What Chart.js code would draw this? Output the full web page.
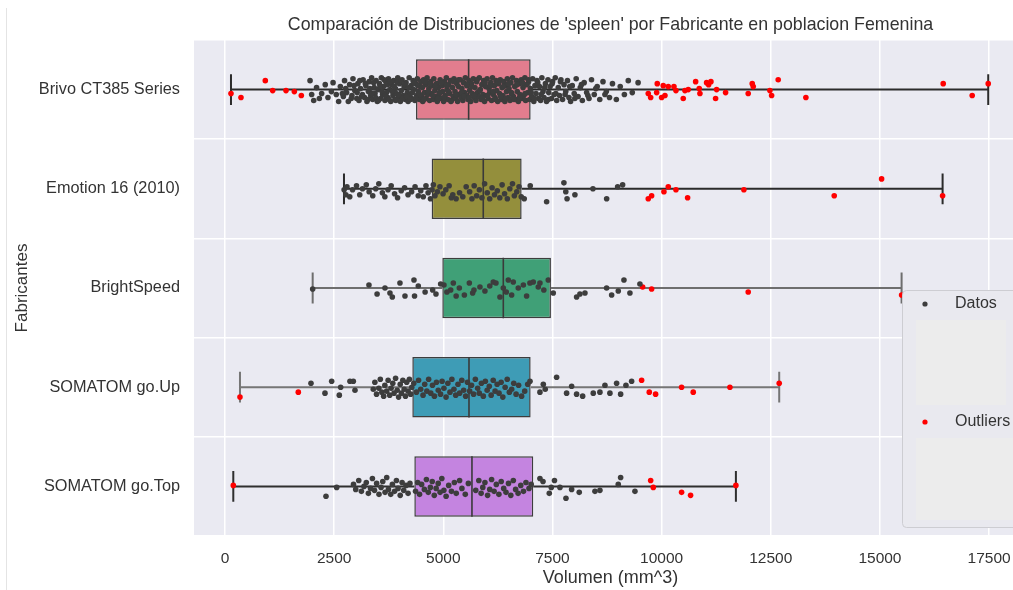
<!DOCTYPE html>
<html>
<head>
<meta charset="utf-8">
<script src="https://cdn.jsdelivr.net/npm/chart.js@4.4.1/dist/chart.umd.min.js"></script>
<style>
  html, body { margin: 0; padding: 0; background: #ffffff; overflow: hidden; }
  #wrap { position: absolute; left: 0; top: 0; width: 1030px; height: 590px; }
</style>
</head>
<body>
<div id="wrap"><canvas id="c" width="1030" height="590"></canvas></div>
<script>
// ---------------- DATA ----------------
const chartTitle = "Comparación de Distribuciones de 'spleen' por Fabricante en poblacion Femenina";
const xAxisTitle = "Volumen (mm^3)";
const yAxisTitle = "Fabricantes";
const categories = ["Brivo CT385 Series", "Emotion 16 (2010)", "BrightSpeed", "SOMATOM go.Up", "SOMATOM go.Top"];
const xTickValues = [0, 2500, 5000, 7500, 10000, 12500, 15000, 17500];

const whiskerLow  = [137, 2725, 2008, 343, 190];
const q1          = [4375, 4733, 4977, 4290, 4336];
const medians     = [5580, 5915, 6374, 5588, 5656];
const q3          = [7000, 6794, 7465, 7000, 7060];
const whiskerHigh = [17480, 16435, 15496, 12693, 11701];

// point values [volume, jitter offset in category units]
const datosBrivo = [[1948,-.09],[1985,.05],[2032,.11],[2097,-.02],[2161,.09],[2214,.04],[2296,-.05],[2358,.08],[2437,.02],[2475,-.07],[2548,.05],[2603,.12],[2642,-.03],[2711,.07],[2738,-.09],[2786,.03],[2824,.12],[2853,-.05],[2907,.06],[2931,-.11],[2972,.01],[3018,.09],[3043,-.06],[3069,.11],[3104,-.01],[3148,.05],[3163,-.1],[3197,.08],[3226,-.04],[3251,.12],[3284,.02],[3302,-.08],[3337,.06],[3358,-.12],[3382,.1],[3417,-.02],[3436,.04],[3461,-.09],[3488,.12],[3503,0],[3538,-.06],[3566,.09],[3581,-.12],[3609,.05],[3627,-.03],[3664,.11],[3683,-.08],[3702,.03],[3729,.08],[3744,-.11],[3778,0],[3796,.12],[3813,-.05],[3846,.06],[3862,-.09],[3891,.1],[3904,-.01],[3922,.04],[3957,-.12],[3971,.08],[3998,-.06],[4016,.12],[4039,.01],[4055,-.1],[4083,.06],[4102,-.03],[4127,.1],[4146,-.07],[4174,.03],[4193,.12],[4218,-.12],[4236,.05],[4263,-.04],[4281,.09],[4307,-.09],[4322,0],[4349,.11],[4366,-.06],[4391,.06],[4404,-.11],[4428,.02],[4455,.1],[4473,-.03],[4486,-.08],[4508,.07],[4529,.12],[4547,-.1],[4571,.03],[4589,-.05],[4606,.09],[4628,-.12],[4644,.05],[4669,-.01],[4687,.11],[4712,-.08],[4726,.04],[4745,-.04],[4768,.1],[4783,-.11],[4806,.01],[4827,.07],[4846,-.06],[4861,.12],[4888,-.02],[4903,.05],[4927,-.1],[4946,.09],[4968,-.04],[4984,.02],[5007,.12],[5028,-.08],[5043,.06],[5069,-.12],[5085,0],[5106,.1],[5124,-.05],[5148,.04],[5163,-.09],[5187,.11],[5208,-.02],[5226,.07],[5244,-.11],[5268,.02],[5283,.09],[5309,-.06],[5327,.12],[5346,-.03],[5364,.05],[5388,-.1],[5405,.08],[5426,-.01],[5447,.11],[5463,-.07],[5486,.03],[5504,-.12],[5527,.06],[5542,-.04],[5566,.1],[5587,-.09],[5603,.01],[5628,.12],[5645,-.06],[5664,.04],[5687,-.11],[5706,.08],[5724,-.02],[5748,.11],[5763,-.08],[5785,.03],[5806,.07],[5824,-.12],[5847,0],[5866,.1],[5883,-.05],[5907,.05],[5925,-.09],[5944,.12],[5968,-.03],[5986,.06],[6003,-.11],[6027,.09],[6046,-.01],[6064,.03],[6087,-.07],[6105,.11],[6126,-.12],[6144,.05],[6168,-.04],[6185,.08],[6207,-.09],[6224,.01],[6246,.12],[6263,-.06],[6288,.04],[6304,-.1],[6327,.1],[6345,-.02],[6366,.06],[6384,-.08],[6409,.12],[6425,-.04],[6448,.02],[6466,-.11],[6487,.08],[6505,-.01],[6528,.11],[6547,-.07],[6566,.04],[6585,-.12],[6607,.07],[6636,-.03],[6654,.1],[6677,-.09],[6694,.02],[6718,.12],[6737,-.06],[6755,.05],[6784,-.1],[6803,.09],[6826,-.02],[6844,.06],[6868,-.12],[6885,.11],[6907,-.05],[6936,.03],[6954,-.08],[6977,.1],[6995,-.01],[7026,.07],[7047,-.11],[7073,.12],[7098,-.04],[7124,.04],[7146,-.09],[7177,.09],[7203,-.03],[7228,.11],[7257,-.12],[7284,.02],[7306,.08],[7338,-.06],[7364,.12],[7397,-.1],[7415,.03],[7446,-.03],[7478,.09],[7503,-.08],[7536,.05],[7564,-.12],[7597,.11],[7633,-.02],[7662,.06],[7694,-.1],[7731,.1],[7765,-.05],[7804,.02],[7843,-.09],[7877,.08],[7915,.12],[7953,-.04],[7998,.04],[8043,-.11],[8086,.07],[8138,-.02],[8184,.11],[8226,-.07],[8283,.03],[8337,.09],[8394,-.1],[8457,.05],[8524,-.03],[8583,.1],[8657,-.08],[8733,.02],[8806,.08],[8874,-.06],[8963,.1],[9052,-.03],[9147,.05],[9236,-.09],[9328,.03],[9461,-.07],
  [2688,.04],[2764,-.01],[2891,.09],[2955,-.04],[3027,.03],[3088,-.09],[3126,.07],[3214,-.06],[3273,.1],[3319,-.01],[3372,.04],[3405,-.07],[3452,.08],[3517,.11],[3549,-.03],[3598,.02],[3645,-.1],[3671,.06],[3717,-.05],[3758,.1],[3786,-.08],[3831,.02],[3877,-.03],[3913,.11],[3944,-.07],[3986,.05],[4027,-.09],[4069,.09],[4114,-.05],[4158,.07],[4207,-.02],[4249,.1],[4296,.03],[4337,-.07],[4382,.09],[4417,-.04],[4463,.05],[4519,-.02],[4558,.1],[4597,-.08],[4654,.02],[4698,-.06],[4757,.06],[4818,-.03],[4874,.09],[4915,.03],[4957,-.07],[5018,.08],[5076,-.04],[5117,.02],[5174,.12],[5236,-.08],[5297,.05],[5352,-.1],[5413,.03],[5474,.07],[5536,-.05],[5594,.08],[5652,-.03],[5713,.06],[5774,-.1],[5836,.01],[5893,.09],[5957,-.07],[6016,.06],[6074,-.04],[6137,.02],[6196,.1],[6257,-.08],[6314,.07],[6376,-.03],[6437,.09],[6496,-.06],[6559,.03],[6618,.1],[6683,-.05],[6746,.08],[6812,-.07],[6873,.04],[6948,-.1],[7012,.03],[7088,.09],[7163,-.07],[7241,.05],[7322,-.02],[7405,.1],[7492,-.06],[7578,.04],[7683,-.08],[7789,.05],[7896,-.03],[8012,.09],[8163,-.05],[8311,.06],[8492,-.01],[8702,.05]];
const outBrivo = [[137,.04],[366,.08],[923,-.09],[1092,.01],[1397,.01],[1588,.02],[1748,.06],[9694,.04],[9749,.08],[9900,-.06],[9886,.03],[10000,.08],[10037,-.04],[10076,.06],[10152,-.03],[10282,-.03],[10328,.01],[10495,.09],[10534,.01],[10610,0],[10779,-.08],[10861,-.01],[10877,.04],[11030,-.07],[11129,-.08],[11076,-.05],[11236,.09],[11259,0],[11465,.03],[11983,.04],[12075,-.06],[12098,-.03],[12480,.01],[12519,.06],[12670,-.1],[13304,.08],[16449,-.06],[17113,.06],[17480,-.06]];

const datosEmotion = [[2728,.01],[2768,.06],[2793,-.02],[2857,.08],[2921,.01],[3012,-.03],[3086,.06],[3149,0],[3236,-.04],[3301,.03],[3384,.07],[3452,0],[3523,-.05],[3604,.04],[3661,.08],[3733,.01],[3806,-.03],[3884,.05],[3952,.09],[4036,.02],[4113,-.01],[4192,.06],[4274,.03],[4353,-.02],[4426,.07],[4483,.02],[4541,.08],[4603,-.03],[4652,.04],[4706,.1],[4742,.01],[4771,-.04],[4809,.07],[4864,.03],[4923,-.02],[4994,.05],[5057,.01],[5133,-.03],[5184,.09],[5217,.06],[5293,.1],[5372,.04],[5446,.08],[5524,-.02],[5603,.03],[5656,.1],[5707,-.03],[5764,.07],[5826,.01],[5884,.09],[5946,-.05],[6006,.04],[6063,.1],[6117,-.01],[6172,.06],[6236,.02],[6294,.09],[6347,-.04],[6403,.05],[6466,.1],[6523,0],[6584,-.05],[6627,.07],[6683,.03],[6734,-.02],[6785,.08],[6853,.1],[6991,-.03],[7366,.13],[7762,-.06],[7805,.03],[7834,.1],[8014,.06],[8427,0],[8741,.1],[8993,-.02],[9107,-.04]];
const outEmotion = [[9694,.1],[9771,.07],[10053,.03],[10152,-.02],[10328,.01],[10595,.09],[11884,.01],[13953,.07],[15038,-.1],[16435,.07]];

const datosBright = [[2008,.01],[3297,-.03],[3483,.06],[3664,0],[3778,.05],[3832,.09],[4007,-.05],[4122,.08],[4328,-.08],[4341,.08],[4427,-.02],[4583,.04],[4756,.02],[4832,.06],[4939,-.04],[5015,-.03],[5083,.04],[5169,.02],[5229,-.05],[5294,.08],[5367,0],[5482,.07],[5596,-.05],[5672,.05],[5702,.02],[5839,-.01],[5953,.03],[6064,-.02],[6144,-.06],[6206,-.05],[6297,.09],[6374,0],[6442,.04],[6488,-.08],[6565,.07],[6602,-.06],[6717,0],[6833,-.03],[6908,.08],[6984,-.05],[7060,-.06],[7175,-.01],[7213,-.05],[7302,.02],[7404,-.08],[7518,.05],[8053,.09],[8129,.06],[8244,.05],[8740,0],[8855,.07],[9007,.03],[9137,-.08],[9274,.05],[9503,-.04]];
const outBright = [[9565,-.01],[9771,.01],[11983,.04],[15496,.07]];

const datosUp = [[1969,-.04],[2290,.06],[2443,-.06],[2618,.08],[2649,0],[2862,-.06],[2939,-.06],[2977,.03],[3396,.02],[3432,-.05],[3471,.07],[3523,.01],[3557,-.08],[3592,.05],[3634,.09],[3661,-.02],[3703,.04],[3736,-.07],[3772,.08],[3804,.01],[3843,-.04],[3871,.06],[3907,-.09],[3944,.03],[3976,.1],[4013,-.03],[4042,.06],[4073,-.07],[4104,.02],[4133,.09],[4162,-.05],[4194,.04],[4223,-.08],[4252,.07],[4277,0],[4323,-.04],[4384,.05],[4433,-.07],[4482,.02],[4536,.08],[4574,-.03],[4623,.04],[4664,-.08],[4713,.06],[4752,-.02],[4796,.09],[4843,-.05],[4884,.03],[4936,.07],[4972,-.06],[5014,.01],[5063,.1],[5104,-.04],[5153,.05],[5196,-.08],[5243,.02],[5284,.08],[5336,-.03],[5374,.06],[5423,-.07],[5466,.03],[5512,.09],[5553,-.05],[5604,.04],[5646,-.02],[5693,.07],[5734,-.08],[5786,.01],[5824,.06],[5873,-.04],[5916,.09],[5963,-.06],[6004,.03],[6053,-.01],[6096,.08],[6143,-.07],[6186,.04],[6233,-.03],[6276,.06],[6324,-.05],[6363,.1],[6416,0],[6464,-.08],[6513,.05],[6566,.02],[6613,-.04],[6667,.07],[6724,-.02],[6793,.09],[6864,.04],[6933,-.03],[6986,-.06],[7213,.05],[7290,-.03],[7334,.02],[7595,-.1],[7824,.06],[7939,-.01],[8053,.07],[8191,.09],[8434,.06],[8587,.05],[8702,-.02],[8816,.06],[8969,-.04],[9061,.07],[9183,-.02],[9313,-.06]];
const outUp = [[343,.1],[1679,.05],[9542,-.07],[9717,.05],[9862,.07],[10457,0],[10724,.05],[11564,0],[12693,-.04]];

const datosTop = [[2313,.1],[2558,.01],[2943,-.02],[2994,.03],[3063,-.06],[3124,.05],[3183,0],[3236,-.04],[3284,.07],[3333,.02],[3376,-.08],[3424,.04],[3473,-.03],[3527,.08],[3574,.01],[3613,-.05],[3666,.06],[3704,-.09],[3743,.03],[3796,.08],[3834,-.02],[3883,.05],[3926,-.06],[3964,.02],[4013,.09],[4056,-.04],[4093,.04],[4146,-.01],[4193,.07],[4236,-.03],[4364,.05],[4413,-.04],[4456,.08],[4503,-.02],[4566,.03],[4613,-.07],[4656,.06],[4703,.01],[4746,-.05],[4793,.09],[4836,.02],[4883,-.03],[4926,.06],[4966,-.08],[5013,.04],[5064,.1],[5123,-.01],[5186,.05],[5253,-.04],[5296,.07],[5373,-.06],[5426,.02],[5503,.08],[5574,-.03],[5743,.04],[5813,-.06],[5866,.07],[5904,.01],[5953,-.04],[6014,.09],[6063,.03],[6106,-.07],[6163,.05],[6214,-.02],[6273,.08],[6326,-.05],[6383,.02],[6436,.06],[6493,-.03],[6546,.09],[6603,-.06],[6656,.03],[6713,.07],[6774,-.01],[6836,.05],[6893,-.04],[6963,.02],[7013,-.02],[7213,-.08],[7283,-.05],[7427,.07],[7473,.01],[7546,-.06],[7671,.01],[7809,.12],[7939,.03],[8113,.06],[8473,.05],[8587,.04],[9007,-.02],[9061,-.09],[9389,.05]];
const outTop = [[190,-.01],[9749,-.06],[9809,.01],[10457,.06],[10663,.09],[11701,-.01]];

const datosRows = [datosBrivo, datosEmotion, datosBright, datosUp, datosTop];
const outlierRows = [outBrivo, outEmotion, outBright, outUp, outTop];

// ---------------- STYLE ----------------
const boxColors = ['#e27d8e', '#948f3c', '#40a077', '#3e9cb6', '#c484e0'];
const whiskerColors = ['#2b2b2b', '#2b2b2b', '#6e6e6e', '#767676', '#2f2f2f'];
const BOX_FRAC = 0.61;
const CAP_HALF = 0.155;
const FONT = '"Liberation Sans", Arial, sans-serif';
const TEXT = '#333333';

Chart.defaults.font.family = FONT;
Chart.defaults.color = TEXT;

function toPoints(rows) {
  const out = [];
  rows.forEach((arr, i) => arr.forEach(([v, j]) => out.push({ x: v, y: i + j })));
  return out;
}
function whiskerData(i) {
  const G = { x: null, y: null };
  return [
    { x: whiskerLow[i], y: i }, { x: q1[i], y: i }, G,
    { x: q3[i], y: i }, { x: whiskerHigh[i], y: i }, G,
    { x: whiskerLow[i], y: i - CAP_HALF }, { x: whiskerLow[i], y: i + CAP_HALF }, G,
    { x: whiskerHigh[i], y: i - CAP_HALF }, { x: whiskerHigh[i], y: i + CAP_HALF }
  ];
}
const medianData = [];
categories.forEach((c, i) => {
  medianData.push({ x: medians[i], y: i - BOX_FRAC / 2 }, { x: medians[i], y: i + BOX_FRAC / 2 }, { x: null, y: null });
});

const datasets = [];
datasets.push({
  type: 'scatter', label: 'Datos', data: toPoints(datosRows), order: 0,
  backgroundColor: '#3d3d3d', borderWidth: 0, pointRadius: 2.8, pointHoverRadius: 2.8
});
datasets.push({
  type: 'scatter', label: 'Outliers', data: toPoints(outlierRows), order: 0,
  backgroundColor: '#ff0000', borderWidth: 0, pointRadius: 2.8, pointHoverRadius: 2.8
});
categories.forEach((c, i) => {
  datasets.push({
    type: 'line', label: 'whisker ' + c, data: whiskerData(i), order: 1,
    borderColor: whiskerColors[i], borderWidth: 2, pointRadius: 0, spanGaps: false, fill: false, tension: 0
  });
});
datasets.push({
  type: 'line', label: 'median', data: medianData, order: 1,
  borderColor: '#3a3a3a', borderWidth: 1.6, pointRadius: 0, spanGaps: false, fill: false, tension: 0
});
datasets.push({
  type: 'bar', label: 'box', order: 2,
  data: categories.map((c, i) => ({ x: [q1[i], q3[i]], y: i })),
  backgroundColor: boxColors, borderColor: '#3d3d3d', borderWidth: 1.5, borderSkipped: false,
  barPercentage: BOX_FRAC, categoryPercentage: 1, grouped: false
});

const decorPlugin = {
  id: 'decor',
  beforeDraw(chart) {
    const { ctx, chartArea: a } = chart;
    ctx.save();
    ctx.fillStyle = '#ffffff';
    ctx.fillRect(0, 0, chart.width, chart.height);
    ctx.strokeStyle = '#e4e4e4';
    ctx.lineWidth = 1;
    ctx.beginPath(); ctx.moveTo(6.5, 8); ctx.lineTo(6.5, chart.height); ctx.stroke();
    ctx.fillStyle = '#eaeaf2';
    ctx.fillRect(a.left, a.top, a.right - a.left, a.bottom - a.top);
    ctx.restore();
  },
  afterDraw(chart) {
    const { ctx, chartArea: a } = chart;
    ctx.save();
    // title
    ctx.fillStyle = TEXT;
    ctx.font = '17.8px ' + FONT;
    ctx.textAlign = 'center';
    ctx.textBaseline = 'middle';
    ctx.fillText(chartTitle, (a.left + a.right) / 2, 25);
    // legend
    const lx = a.right - 125, ly = a.top + 250, lw = 140, lh = 237;
    ctx.fillStyle = '#e9e9ef';
    ctx.strokeStyle = '#cdcdd2';
    ctx.lineWidth = 1;
    ctx.beginPath();
    ctx.roundRect(lx + 0.5, ly + 0.5, lw, lh, 4);
    ctx.fill(); ctx.stroke();
    ctx.fillStyle = '#ececec';
    ctx.fillRect(lx + 14, ly + 30, 90, 85);
    ctx.fillRect(lx + 14, ly + 148, 110, 82);
    const items = [chart.data.datasets[0], chart.data.datasets[1]];
    const rowsY = [ly + 14, ly + 132];
    items.forEach((ds, k) => {
      ctx.fillStyle = ds.backgroundColor;
      ctx.beginPath(); ctx.arc(lx + 23, rowsY[k], 2.6, 0, Math.PI * 2); ctx.fill();
      ctx.fillStyle = TEXT;
      ctx.font = '16px ' + FONT;
      ctx.textAlign = 'left';
      ctx.fillText(ds.label, lx + 53, rowsY[k]);
    });
    ctx.restore();
  }
};

new Chart(document.getElementById('c'), {
  type: 'bar',
  data: { datasets },
  plugins: [decorPlugin],
  options: {
    indexAxis: 'y',
    responsive: false,
    animation: false,
    devicePixelRatio: 1,
    layout: { padding: { left: 6, top: 40, right: 3, bottom: 0 } },
    plugins: { legend: { display: false }, tooltip: { enabled: false }, title: { display: false } },
    scales: {
      x: {
        type: 'linear', position: 'bottom', min: -710, max: 18368,
        afterBuildTicks: s => { s.ticks = xTickValues.map(v => ({ value: v })); },
        afterFit: s => { s.height = 54; },
        ticks: { padding: 13, font: { size: 15.5 }, color: TEXT, callback: v => String(v) },
        grid: { color: '#ffffff', lineWidth: 1.5, drawTicks: false },
        border: { display: false },
        title: { display: true, text: xAxisTitle, font: { size: 18 }, color: TEXT, padding: { top: 0, bottom: 1 } }
      },
      y: {
        type: 'linear', position: 'left', min: -0.5, max: 4.5, reverse: true, offset: false,
        afterBuildTicks: s => { s.ticks = categories.map((c, i) => ({ value: i })); },
        afterFit: s => { s.width = 188; },
        ticks: { padding: 14, font: { size: 16.3 }, color: TEXT, callback: v => categories[v] },
        grid: { color: '#ffffff', lineWidth: 1.5, drawTicks: false },
        border: { display: false },
        title: { display: true, text: yAxisTitle, font: { size: 17 }, color: TEXT, padding: { top: 6, bottom: 0 } }
      }
    }
  }
});
</script>
</body>
</html>
